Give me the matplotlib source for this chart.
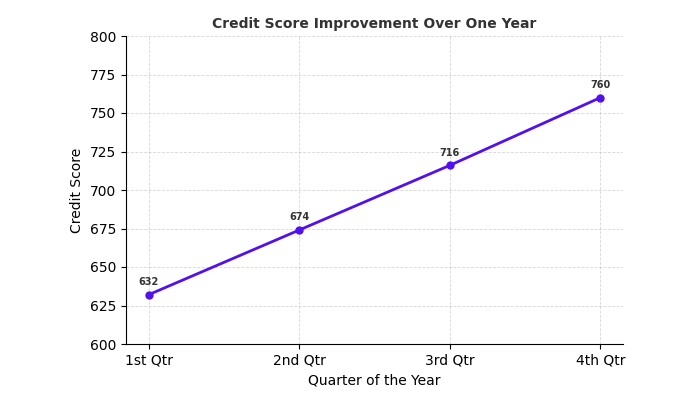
import matplotlib
matplotlib.use("Agg")
import matplotlib.pyplot as plt

quarters = ["1st Qtr", "2nd Qtr", "3rd Qtr", "4th Qtr"]
scores = [632, 674, 716, 760]

fig, ax = plt.subplots(figsize=(7, 4), dpi=100)
ax.plot(quarters, scores, color="#5210f0", linewidth=2, marker="o", markersize=5)
for q, s in zip(quarters, scores):
    ax.annotate(str(s), (q, s), textcoords="offset points", xytext=(0, 7),
                ha="center", fontsize=7, fontweight="bold", color="#333333")

ax.set_ylim(600, 800)
ax.set_yticks(range(600, 801, 25))
ax.set_title("Credit Score Improvement Over One Year", fontsize=10, fontweight="bold", color="#333333")
ax.set_xlabel("Quarter of the Year")
ax.set_ylabel("Credit Score")
ax.grid(True, linestyle="--", linewidth=0.6, alpha=0.5)
ax.spines["top"].set_visible(False)
ax.spines["right"].set_visible(False)
fig.subplots_adjust(left=0.18, right=0.89, top=0.91, bottom=0.14)
fig.savefig("out.png")
